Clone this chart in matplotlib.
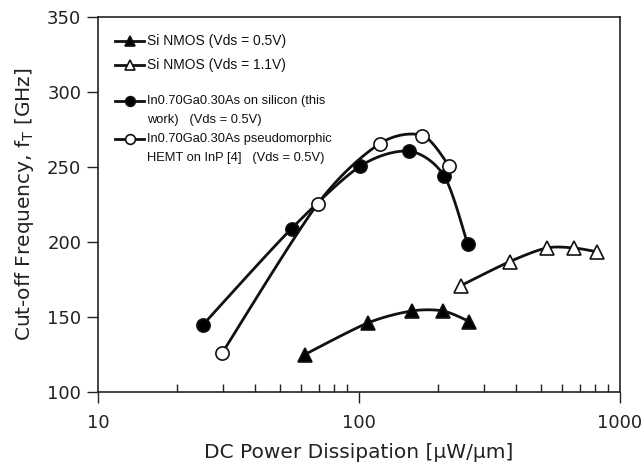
import numpy as np
import matplotlib
matplotlib.use('Agg')
import matplotlib.pyplot as plt
from matplotlib.ticker import FixedLocator, NullFormatter

# Si NMOS, Vds = 0.5V
si05_p = [62, 108, 159, 210, 265]
si05_ft = [125, 146, 154, 154, 147]

# Si NMOS, Vds = 1.1V
si11_p = [246, 379, 523, 666, 814]
si11_ft = [171, 187, 196, 196, 193.5]

# In0.70Ga0.30As on silicon
ingaas_p = [25.3, 55.2, 101, 156, 212, 261]
ingaas_ft = [145, 209, 250.5, 260.5, 244, 198.5]

# In0.70Ga0.30As pHEMT on InP
hemt_p = [29.9, 69.5, 120, 175, 222]
hemt_ft = [126, 225.5, 265.5, 271, 250.5]

x_ticks = [10, 100, 1000]
x_tick_labels = ['10', '100', '1000']


def smooth(xs, ys, n=24):
    # bezier smoothing through the points, done in log-x / linear-y screen space
    u = (np.log10(xs) - 1) / 2 * 522
    v = (np.array(ys, dtype=float) - 100) / 250 * 375
    pts = np.column_stack([u, v])
    pts = np.vstack([pts[0], pts, pts[-1]])
    out = []
    t = np.linspace(0, 1, n)[:, None]
    for i in range(1, len(pts) - 2):
        p0, p1, p2, p3 = pts[i - 1], pts[i], pts[i + 1], pts[i + 2]
        c1 = p1 + (p2 - p0) / 7
        c2 = p2 - (p3 - p1) / 7
        seg = ((1 - t) ** 3 * p1 + 3 * (1 - t) ** 2 * t * c1
               + 3 * (1 - t) * t ** 2 * c2 + t ** 3 * p2)
        out.append(seg if i == 1 else seg[1:])
    out = np.vstack(out)
    return 10 ** (out[:, 0] / 522 * 2 + 1), out[:, 1] / 375 * 250 + 100


plt.rcParams['font.family'] = 'DejaVu Sans'
fig = plt.figure(figsize=(6.44, 4.67), dpi=100)
ax = fig.add_axes([98 / 644, 75 / 467, 522 / 644, 375 / 467])

series = [
    (si05_p, si05_ft, '^', 'k'),
    (si11_p, si11_ft, '^', 'white'),
    (ingaas_p, ingaas_ft, 'o', 'k'),
    (hemt_p, hemt_ft, 'o', 'white'),
]
for xs, ys, mk, fc in series:
    sx, sy = smooth(xs, ys)
    ax.plot(sx, sy, color='#111111', lw=2, zorder=2)
    ax.plot(xs, ys, ls='none', marker=mk, ms=9.5, mfc=fc, mec='#111111',
            mew=1.2, zorder=3)

ax.set_xscale('log')
ax.set_xlim(10, 1000)
ax.set_ylim(100, 350)
ax.set_xticks(x_ticks)
ax.set_xticklabels(x_tick_labels)
ax.xaxis.set_minor_formatter(NullFormatter())
ax.set_yticks([100, 150, 200, 250, 300, 350])
ax.tick_params(axis='y', which='major', direction='out', length=8, width=1,
               labelsize=13, pad=4, colors='#222222')
ax.tick_params(axis='x', which='major', direction='out', length=8, width=1,
               labelsize=13, pad=8, colors='#222222')
ax.tick_params(axis='x', which='minor', direction='in', length=6, width=1,
               colors='#222222')
for s in ax.spines.values():
    s.set_color('#222222')
    s.set_linewidth(1.2)

ax.set_xlabel('DC Power Dissipation [μW/μm]', fontsize=14.5, color='#222222',
              labelpad=8)
ax.set_ylabel('Cut-off Frequency, f$_\\mathregular{T}$ [GHz]', fontsize=14.5,
              color='#222222', labelpad=8)

# legend built by hand, two text sizes
leg = [
    (41, '^', 'k', ['Si NMOS (Vds = 0.5V)'], 10),
    (65, '^', 'white', ['Si NMOS (Vds = 1.1V)'], 10),
    (101, 'o', 'k', ['In0.70Ga0.30As on silicon (this', 'work)   (Vds = 0.5V)'], 9.3),
    (139, 'o', 'white', ['In0.70Ga0.30As pseudomorphic', 'HEMT on InP [4]   (Vds = 0.5V)'], 9.3),
]
for ypx, mk, fc, lines, fs in leg:
    yf = 1 - ypx / 467
    fig.add_artist(plt.Line2D([115 / 644, 144 / 644], [yf, yf], color='#111111',
                              lw=2))
    fig.add_artist(plt.Line2D([130 / 644], [yf], marker=mk, ms=7.5 if mk == '^' else 7,
                              mfc=fc, mec='#111111', mew=1.2))
    for j, txt in enumerate(lines):
        fig.text(147 / 644, yf - j * 19 / 467, txt, fontsize=fs,
                 family='Liberation Sans', color='#111111', va='center')

fig.savefig('out.png', dpi=100)
